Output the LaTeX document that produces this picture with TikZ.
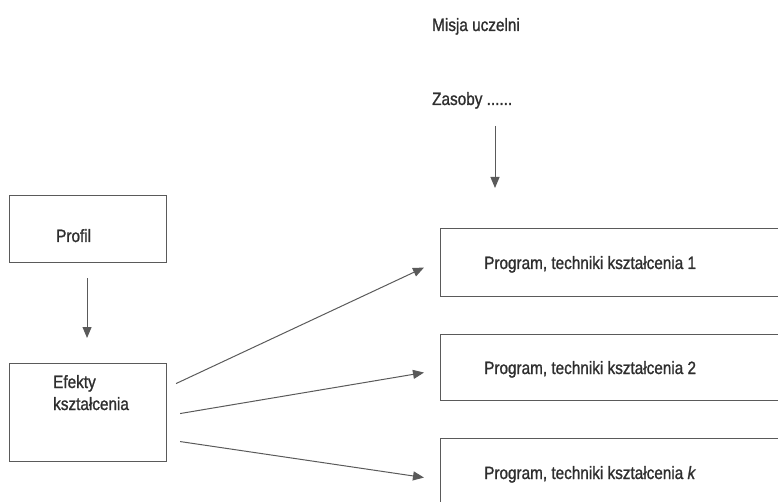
\documentclass[tikz,border=0pt]{standalone}
\usepackage{fontspec}
\setmainfont[FakeStretch=0.86,FakeBold=1.2]{Liberation Sans}
\usetikzlibrary{arrows.meta,calc}
\definecolor{textgray}{HTML}{2E2E2E}
\definecolor{linegray}{HTML}{5A5A5A}
\begin{document}
\begin{tikzpicture}[x=1pt,y=-1pt,
  box/.style={draw=linegray, line width=1.1pt, rectangle, inner sep=0, anchor=north west},
  lbl/.style={anchor=base west, text=textgray, font=\fontsize{17.8}{22}\selectfont, inner sep=0, align=left},
  arr/.style={draw=linegray, line width=1pt, -{Triangle[length=11pt,width=9pt]}}]
\useasboundingbox (0,0) rectangle (778,502);
\clip (0,0) rectangle (778,502);
% left boxes
\node[box, minimum width=157pt, minimum height=67pt] (profil) at (9,195) {};
\node[box, minimum width=157pt, minimum height=98pt] (efekty) at (9,363) {};
\node[lbl] (profilt) at (56,242) {Profil};
\node[lbl] (efektyt) at (53,410) {Efekty\\kształcenia};
% top texts
\node[lbl] (misja) at (432,31) {Misja uczelni};
\node[lbl] (zasoby) at (432,105) {Zasoby ......};
% program boxes
\node[box, minimum width=400pt, minimum height=68pt] (p1) at (440,228) {};
\node[box, minimum width=400pt, minimum height=66pt] (p2) at (440,334) {};
\node[box, minimum width=400pt, minimum height=68pt] (p3) at (440,438) {};
\node[lbl] (p1t) at (484,269) {Program, techniki kształcenia 1};
\node[lbl] (p2t) at (484,374) {Program, techniki kształcenia 2};
\node[lbl] (p3t) at (484,479) {Program, techniki kształcenia \textit{k}};
% arrows
\coordinate (zs) at (495,126);
\coordinate (ze) at (495,188);
\draw[arr] (zs) -- (ze);
\draw[arr] ($(profil.south)+(-1,15)$) -- ($(efekty.north)+(-1,-25)$);
\draw[arr] ($(efekty.east)+(9,-29)$) -- ($(p1.west)+(-16,5)$);
\draw[arr] ($(efekty.east)+(13,1)$) -- ($(p2.west)+(-16,5)$);
\draw[arr] ($(efekty.east)+(13,29)$) -- ($(p3.west)+(-16,5)$);
\end{tikzpicture}
\end{document}
